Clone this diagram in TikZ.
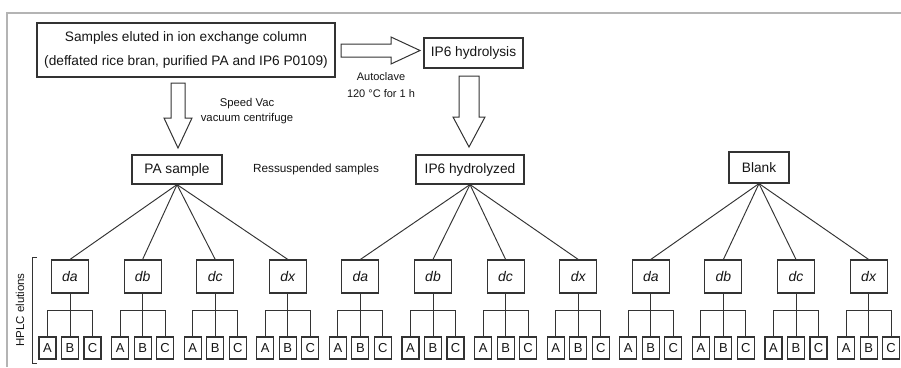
\documentclass[tikz,border=0pt]{standalone}
\usepackage{fontspec}
\setmainfont{Liberation Sans}
\definecolor{linecol}{HTML}{333333}
\definecolor{txtcol}{HTML}{151515}
\definecolor{framecol}{HTML}{B4B4B4}
\tikzset{
  box/.style={draw=linecol, line width=1.15pt, inner sep=0pt, text=txtcol,
    font=\fontsize{13.7}{16}\selectfont},
  subbox/.style={box, minimum width=37pt, minimum height=33pt,
    font=\fontsize{14}{16}\selectfont\itshape},
  leafbox/.style={box, minimum width=17pt, minimum height=22pt,
    font=\fontsize{13}{15}\selectfont},
  note/.style={text=txtcol, inner sep=0pt, align=center},
  link/.style={draw=linecol, line width=0.95pt},
  blockarrow/.style={draw=linecol, line width=1pt, fill=white, line join=miter}
}
\begin{document}
\begin{tikzpicture}[x=1pt, y=-1pt]
\useasboundingbox (0,0) rectangle (901,367);

% frame lines along the top and left
\draw[framecol, line width=1.5pt] (7,367) -- (7,13) -- (901,13);

% preparation steps
\node[box, minimum width=298pt, minimum height=54pt, align=center,
  font=\fontsize{13.7}{24}\selectfont] (src) at (186,50)
  {Samples eluted in ion exchange column\\(deffated rice bran, purified PA and IP6 P0109)};
\node[box, minimum width=99pt, minimum height=30pt] (hyd) at (473.5,53) {IP6 hydrolysis};

% hollow block arrows
\draw[blockarrow] (341,44) -- (391,44) -- (391,37) -- (420,50.5) -- (391,64)
  -- (391,57) -- (341,57) -- cycle;
\draw[blockarrow] (171,83) -- (185,83) -- (185,118) -- (192,118) -- (178,148)
  -- (164,118) -- (171,118) -- cycle;
\draw[blockarrow] (459,76) -- (479,76) -- (479,117) -- (485,117) -- (469,147)
  -- (453,117) -- (459,117) -- cycle;

\node[note, font=\fontsize{11}{17}\selectfont] (autoclave) at (381,85.5)
  {Autoclave\\120 °C for 1 h};
\node[note, font=\fontsize{11.3}{15}\selectfont] (speedvac) at (247,111.5)
  {Speed Vac\\vacuum centrifuge};

% resuspended samples
\node[box, minimum width=90pt, minimum height=29pt] (pa) at (177,169.5) {PA sample};
\node[box, minimum width=108pt, minimum height=29pt] (hy) at (470,169.5) {IP6 hydrolyzed};
\node[box, minimum width=60pt, minimum height=31pt] (bl) at (759,167.5) {Blank};
\node[note, font=\fontsize{11.8}{14}\selectfont] (resus) at (316,169) {Ressuspended samples};

% HPLC elution tree
\foreach \g/\top in {0/pa, 1/hy, 2/bl} {
  \foreach \d [count=\k from 0] in {da, db, dc, dx} {
    \pgfmathsetmacro{\cx}{70 + 72.6*(4*\g + \k)}
    \node[subbox] (\top-\d) at (\cx,276.5) {\d};
    \draw[link] (\top.south) -- (\top-\d.north);
    \foreach \leaf/\off in {A/-22.5, B/0, C/22.5} {
      \node[leafbox] (\top-\d-\leaf) at (\cx+\off,348) {\leaf};
    }
    \coordinate (\top-\d-bar) at (\cx,310);
    \draw[link] (\top-\d.south) -- (\top-\d-B.north);
    \draw[link] (\top-\d-A.north) -- (\top-\d-A.north |- \top-\d-bar)
      -- (\top-\d-C.north |- \top-\d-bar) -- (\top-\d-C.north);
  }
}

% bracket with side label
\coordinate (brtop) at (37,257);
\coordinate (brbot) at (37,363);
\draw[link] (brtop) -- (32,257) -- (32,363) -- (brbot);
\node[note, rotate=90, font=\fontsize{11.5}{14}\selectfont] (hplc) at (20,310) {HPLC elutions};
\end{tikzpicture}
\end{document}
